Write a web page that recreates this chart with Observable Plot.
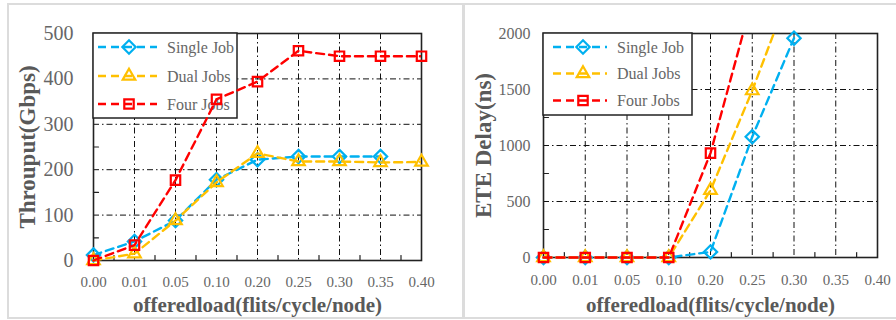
<!DOCTYPE html>
<html>
<head>
<meta charset="utf-8">
<script src="https://cdn.jsdelivr.net/npm/d3@7"></script>
<script src="https://cdn.jsdelivr.net/npm/@observablehq/plot@0.6"></script>
<style>
  body { margin: 0; background: #fff; }
  #wrap { position: relative; width: 896px; height: 320px; overflow: hidden; background: #fff; }
  #wrap svg text { font-family: "Liberation Serif", "Times New Roman", serif !important; }
  .panel { position: absolute; top: 0; }
  .bar { position: absolute; background: #dcdcdc; }
</style>
</head>
<body>
<div id="wrap">
  <div id="left" class="panel" style="left:0px"></div>
  <div id="right" class="panel" style="left:450px"></div>
  <div class="bar" style="left:7px;top:3px;width:889px;height:2px"></div>
  <div class="bar" style="left:7px;top:3px;width:2px;height:316px"></div>
  <div class="bar" style="left:7px;top:317px;width:889px;height:2px"></div>
  <div class="bar" style="left:462px;top:3px;width:3px;height:316px"></div>
</div>
<script>
// ---------- data ----------
const loads = ["0.00", "0.01", "0.05", "0.10", "0.20", "0.25", "0.30", "0.35", "0.40"];
const seriesNames = ["Single Job", "Dual Jobs", "Four Jobs"];
const seriesColors = ["#00B0F0", "#FFC000", "#FF0000"];
const seriesSymbols = ["diamond2", "triangle2", "square2"];

// Throughput (Gbps)
const thrSingle = [12, 42, 88, 178, 222, 229, 229, 229, null];
const thrDual   = [0, 15, 88, 172, 236, 218, 218, 216, 217];
const thrFour   = [0, 34, 177, 355, 394, 462, 450, 450, 450];
const thrTicks  = [0, 100, 200, 300, 400, 500];
const thrMinor  = [50, 150, 250, 350, 450];

// ETE delay (ns)
const delaySingle = [0, 0, 0, 0, 50, 1078, 1958, null, null];
const delayDual   = [0, 0, 0, 0, 600, 1490, 2480, null, null];
const delayFour   = [0, 0, 0, 0, 932, 2300, null, null, null];
const delayTicks  = [0, 500, 1000, 1500, 2000];
const delayMinor  = [250, 750, 1250, 1750];

const loadMinor = [0.5, 1.5, 2.5, 3.5, 4.5, 5.5, 6.5, 7.5];

// ---------- helpers ----------
const FONT = "Liberation Serif, Times New Roman, serif";
const tickShape = { draw(context, l) { context.moveTo(0, 0); context.lineTo(0, -l); } };
const d3Symbols = { diamond2: d3.symbolDiamond2, triangle2: d3.symbolTriangle2, square2: d3.symbolSquare2 };
const R = 6;

function panel(opts) {
  const { width, marginRight, marginBottom, yMax, yTicks, yMinor, series,
          yLabel, yFont, yPad, xPad, xTitleDy, yTitleDx, legend } = opts;
  const rows = series.flatMap((vals, s) =>
    vals.map((v, i) => ({ i, series: seriesNames[s], value: v })));
  const seriesMarks = seriesNames.flatMap((name, s) => {
    const data = rows.filter(d => d.series === name);
    return [
      Plot.line(data, { x: "i", y: "value", stroke: seriesColors[s], strokeWidth: 2.4,
        strokeDasharray: "8,5", clip: true }),
      Plot.dot(data.filter(d => d.value != null && d.value <= yMax),
        { x: "i", y: "value", symbol: seriesSymbols[s], r: R, fill: "none",
          stroke: seriesColors[s], strokeWidth: 2.2 })
    ];
  });
  const svg = Plot.plot({
    width, height: 320,
    marginLeft: 93, marginRight, marginTop: 33, marginBottom,
    style: { fontFamily: FONT, background: "white", color: "#666", overflow: "visible" },
    x: { type: "linear", domain: [0, loads.length - 1] },
    y: { domain: [0, yMax] },
    marks: [
      Plot.ruleX(d3.range(loads.length), { x: d => d, stroke: "#111", strokeWidth: 1, strokeDasharray: "6,3,1.5,3" }),
      Plot.ruleY(yTicks, { y: d => d, stroke: "#111", strokeWidth: 1, strokeDasharray: "6,3,1.5,3" }),
      Plot.vector(loadMinor, { x: d => d, frameAnchor: "bottom", anchor: "start", length: 5, rotate: 0,
        shape: tickShape, stroke: "#222", strokeWidth: 1.2 }),
      Plot.vector(yMinor, { y: d => d, frameAnchor: "left", anchor: "start", length: 5, rotate: 90,
        shape: tickShape, stroke: "#222", strokeWidth: 1.2 }),
      Plot.frame({ stroke: "#222", strokeWidth: 1.6 }),
      ...seriesMarks,
      Plot.axisX(d3.range(loads.length), { tickFormat: i => loads[i], tickSize: 0, tickPadding: xPad,
        fontSize: 15, fill: "#666", label: null }),
      Plot.axisY(yTicks, { tickFormat: d => String(d), tickSize: 0, tickPadding: yPad, fontSize: yFont,
        fill: "#666", label: null }),
      Plot.text(["offeredload(flits/cycle/node)"], { frameAnchor: "bottom", dy: xTitleDy, text: d => d,
        lineAnchor: "middle", textAnchor: "middle",
        fontSize: 21, fontWeight: "bold", fill: "#595959" }),
      Plot.text([yLabel], { frameAnchor: "left", dx: yTitleDx, rotate: -90, text: d => d,
        textAnchor: "middle", lineAnchor: "middle",
        fontSize: 23, fontWeight: "bold", fill: "#595959" })
    ]
  });
  // extend clip a little so lines on the frame edge are not cut in half
  svg.querySelectorAll("clipPath rect").forEach(r => {
    r.setAttribute("x", +r.getAttribute("x") - 4);
    r.setAttribute("width", +r.getAttribute("width") + 4);
    r.setAttribute("height", +r.getAttribute("height") + 4);
  });
  // legend box, drawn below the series
  const g = d3.select(svg).insert("g", 'g[aria-label="line"]');
  g.append("rect").attr("x", 93).attr("y", 33).attr("width", legend.w).attr("height", legend.h)
    .attr("fill", "white").attr("stroke", "#222").attr("stroke-width", 1.5);
  seriesNames.forEach((name, k) => {
    const y = legend.rows[k];
    g.append("line").attr("x1", legend.sx0).attr("x2", legend.sx1).attr("y1", y).attr("y2", y)
      .attr("stroke", seriesColors[k]).attr("stroke-width", 2.4).attr("stroke-dasharray", "8,5");
    g.append("path").attr("d", d3.symbol(d3Symbols[seriesSymbols[k]], Math.PI * R * R)())
      .attr("transform", `translate(${legend.mx},${y})`).attr("fill", "none")
      .attr("stroke", seriesColors[k]).attr("stroke-width", 2.2);
    g.append("text").attr("x", legend.tx).attr("y", y).attr("dy", "0.35em").text(name)
      .attr("text-anchor", "start")
      .attr("font-size", 16).attr("fill", "#666").attr("font-family", FONT);
  });
  return svg;
}

document.getElementById("left").appendChild(panel({
  width: 450, marginRight: 29, marginBottom: 60,
  yMax: 500, yTicks: thrTicks, yMinor: thrMinor,
  series: [thrSingle, thrDual, thrFour],
  yLabel: "Throuput(Gbps)", yFont: 20, yPad: 20, xPad: 16, xTitleDy: 45, yTitleDx: -66,
  legend: { w: 144, h: 85, sx0: 98, sx1: 157, mx: 129, tx: 167, rows: [47, 76, 104] }
}));

document.getElementById("right").appendChild(panel({
  width: 446, marginRight: 19, marginBottom: 63,
  yMax: 2000, yTicks: delayTicks, yMinor: delayMinor,
  series: [delaySingle, delayDual, delayFour],
  yLabel: "ETE Delay(ns)", yFont: 16, yPad: 13, xPad: 17, xTitleDy: 48, yTitleDx: -60,
  legend: { w: 149, h: 82, sx0: 103, sx1: 157, mx: 133, tx: 167, rows: [47, 73.5, 100.5] }
}));
</script>
</body>
</html>
